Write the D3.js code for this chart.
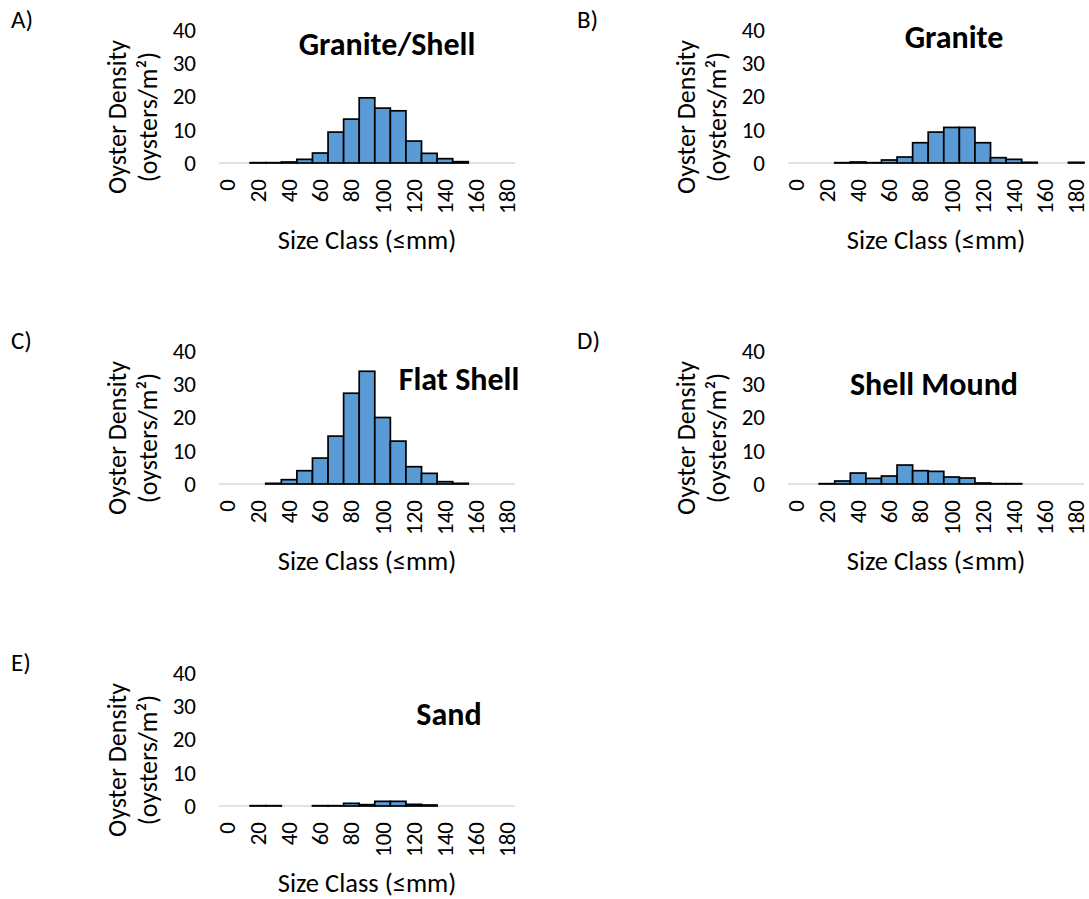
<!DOCTYPE html>
<html>
<head>
<meta charset="utf-8">
<script src="https://cdn.jsdelivr.net/npm/d3@7"></script>
<style>
  body { margin: 0; background: #fff; }
  svg text { font-family: Carlito, Lato, "Open Sans", sans-serif; fill: #000; }
</style>
</head>
<body>
<svg id="chart" width="1089" height="899"></svg>
<script>
// Size classes (upper bound of each 10 mm class)
const sizeClasses = [0, 10, 20, 30, 40, 50, 60, 70, 80, 90, 100, 110, 120, 130, 140, 150, 160, 170, 180];
const xTickLabels = [0, 20, 40, 60, 80, 100, 120, 140, 160, 180];
const yTickLabels = [0, 10, 20, 30, 40];

// Oyster density (oysters/m²) per size class, one array per reef substrate
const graniteShell = [0, 0, 0.1, 0.1, 0.3, 1.1, 3.0, 9.3, 13.2, 19.6, 16.5, 15.7, 6.6, 2.9, 1.3, 0.4, 0, 0, 0];
const granite      = [0, 0, 0, 0.1, 0.3, 0.1, 0.9, 1.8, 6.1, 9.3, 10.7, 10.7, 6.1, 1.6, 1.1, 0.2, 0, 0, 0.2];
const flatShell    = [0, 0, 0, 0.2, 1.3, 4.0, 7.8, 14.4, 27.3, 33.9, 20.0, 12.9, 5.2, 3.2, 0.7, 0.2, 0, 0, 0];
const shellMound   = [0, 0, 0.1, 0.9, 3.3, 1.7, 2.4, 5.7, 4.0, 3.8, 2.1, 1.8, 0.3, 0.1, 0.1, 0, 0, 0, 0];
const sand         = [0, 0, 0.1, 0.1, 0, 0, 0.1, 0.1, 0.8, 0.4, 1.4, 1.4, 0.5, 0.3, 0, 0, 0, 0, 0];

const panelLetters = ["A)", "B)", "C)", "D)", "E)"];
const panelTitles  = ["Granite/Shell", "Granite", "Flat Shell", "Shell Mound", "Sand"];
const panelSeries  = [graniteShell, granite, flatShell, shellMound, sand];

// Panel placement and title anchor inside each panel
const panelLayout = [
  { dx: 0,   dy: 0,   tx: 387, ty: 55 },
  { dx: 569, dy: 0,   tx: 385, ty: 48 },
  { dx: 0,   dy: 321, tx: 459, ty: 69 },
  { dx: 569, dy: 321, tx: 365, ty: 74 },
  { dx: 0,   dy: 643, tx: 449, ty: 82 }
];

const svg = d3.select("#chart");
const plot = { left: 219, right: 515, top: 30, bottom: 163 };

panelSeries.forEach((values, k) => {
  const L = panelLayout[k];
  const g = svg.append("g").attr("transform", `translate(${L.dx},${L.dy})`);

  const x = d3.scaleBand().domain(sizeClasses).range([plot.left, plot.right]).padding(0);
  const y = d3.scaleLinear().domain([0, 40]).range([plot.bottom, plot.top]);

  // Panel letter
  g.append("text")
    .attr("x", k % 2 === 0 ? 11 : 8)
    .attr("y", 28)
    .attr("font-size", 25)
    .text(panelLetters[k]);

  // Category axis line
  g.append("line")
    .attr("x1", plot.left).attr("x2", plot.right)
    .attr("y1", y(0)).attr("y2", y(0))
    .attr("stroke", "#d9d9d9").attr("stroke-width", 1.5);

  // Histogram bars
  g.append("g").selectAll("rect")
    .data(values.map((v, i) => ({ c: sizeClasses[i], v })).filter(d => d.v > 0))
    .join("rect")
    .attr("x", d => x(d.c))
    .attr("width", x.bandwidth())
    .attr("y", d => y(d.v))
    .attr("height", d => y(0) - y(d.v))
    .attr("fill", "#5b9bd5")
    .attr("stroke", "#000")
    .attr("stroke-width", 1.7);

  // Y axis: labels only
  const ya = g.append("g")
    .attr("transform", `translate(${plot.left},0)`)
    .call(d3.axisLeft(y).tickValues(yTickLabels).tickSize(0).tickPadding(23));
  ya.select(".domain").remove();
  ya.selectAll("text").attr("font-size", 23).attr("font-family", null);

  // X axis: every other size class, rotated labels
  const xa = g.append("g")
    .attr("transform", `translate(0,${plot.bottom})`)
    .call(d3.axisBottom(x).tickValues(xTickLabels).tickSize(0));
  xa.select(".domain").remove();
  xa.selectAll("text")
    .attr("font-size", 23).attr("font-family", null)
    .attr("x", 0).attr("y", 0).attr("dy", "0.35em")
    .attr("text-anchor", "end")
    .attr("transform", "translate(0,16) rotate(-90)");

  // Axis titles
  g.append("text")
    .attr("x", (plot.left + plot.right) / 2)
    .attr("y", 249)
    .attr("text-anchor", "middle")
    .attr("font-size", 26.5)
    .text("Size Class (≤mm)");

  const yt = g.append("text")
    .attr("transform", "translate(126,117) rotate(-90)")
    .attr("text-anchor", "middle")
    .attr("font-size", 26);
  yt.append("tspan").attr("x", 0).attr("y", 0).text("Oyster Density");
  yt.append("tspan").attr("x", 0).attr("y", 31).text("(oysters/m²)");

  // Chart title
  g.append("text")
    .attr("x", L.tx)
    .attr("y", L.ty)
    .attr("text-anchor", "middle")
    .attr("font-size", 32)
    .attr("font-weight", "bold")
    .text(panelTitles[k]);
});
</script>
</body>
</html>
